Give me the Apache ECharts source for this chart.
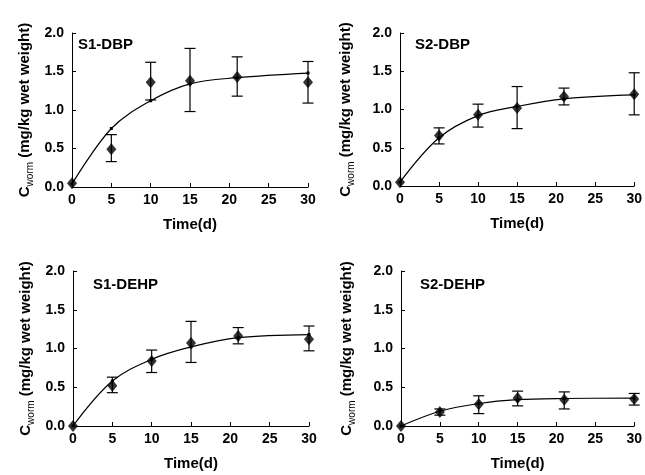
<!DOCTYPE html>
<html>
<head>
<meta charset="utf-8">
<script src="https://cdn.jsdelivr.net/npm/echarts@6/dist/echarts.min.js"></script>
<style>
html,body{margin:0;padding:0;background:#fff;}
#chart{width:645px;height:475px;}
</style>
</head>
<body>
<div id="chart"></div>
<script>
// ---- data ----
const times = [0, 5, 10, 15, 21, 30];
const xTicks = [0, 5, 10, 15, 20, 25, 30];
const yTicks = [0.0, 0.5, 1.0, 1.5, 2.0];

const panelNames = ['S1-DBP', 'S2-DBP', 'S1-DEHP', 'S2-DEHP'];

const s1dbpMean = [0.05, 0.49, 1.36, 1.38, 1.43, 1.36];
const s1dbpLow  = [null, 0.33, 1.13, 0.98, 1.18, 1.09];
const s1dbpHigh = [null, 0.68, 1.62, 1.80, 1.69, 1.63];
const s1dbpFit  = [0.04, 0.76, 1.12, 1.34, 1.42, 1.48];

const s2dbpMean = [0.05, 0.66, 0.93, 1.02, 1.17, 1.20];
const s2dbpLow  = [null, 0.55, 0.77, 0.75, 1.06, 0.93];
const s2dbpHigh = [null, 0.76, 1.07, 1.30, 1.28, 1.48];
const s2dbpFit  = [0.05, 0.63, 0.92, 1.04, 1.14, 1.19];

const s1dehpMean = [0.00, 0.52, 0.84, 1.07, 1.16, 1.12];
const s1dehpLow  = [null, 0.43, 0.69, 0.82, 1.06, 0.97];
const s1dehpHigh = [null, 0.63, 0.98, 1.35, 1.27, 1.29];
const s1dehpFit  = [0.00, 0.58, 0.86, 1.02, 1.14, 1.18];

const s2dehpMean = [0.00, 0.18, 0.28, 0.36, 0.34, 0.35];
const s2dehpLow  = [null, 0.14, 0.16, 0.26, 0.22, 0.27];
const s2dehpHigh = [null, 0.22, 0.39, 0.45, 0.44, 0.42];
const s2dehpFit  = [0.00, 0.19, 0.29, 0.34, 0.355, 0.36];

const panels = [
  {mean: s1dbpMean, low: s1dbpLow, high: s1dbpHigh, fit: s1dbpFit},
  {mean: s2dbpMean, low: s2dbpLow, high: s2dbpHigh, fit: s2dbpFit},
  {mean: s1dehpMean, low: s1dehpLow, high: s1dehpHigh, fit: s1dehpFit},
  {mean: s2dehpMean, low: s2dehpLow, high: s2dehpHigh, fit: s2dehpFit}
];

// ---- layout ----
const FONT = '"Liberation Sans", Arial, Helvetica, sans-serif';
const grids = [
  {left: 72, top: 33, width: 236, height: 154},
  {left: 400, top: 33, width: 235, height: 153},
  {left: 73, top: 271, width: 236, height: 155},
  {left: 401, top: 271, width: 235, height: 155}
];
const nameGaps = [40, 47, 40, 47];
const labelPos = [[78, 46], [415, 46], [93, 286], [420, 286]];

const chart = echarts.init(document.getElementById('chart'), null, {renderer: 'canvas'});

const axisLine = {show: true, lineStyle: {color: '#000', width: 1}};
const axisTick = {show: true, inside: true, length: 4, lineStyle: {color: '#000', width: 1}};

const xAxes = grids.map((g, i) => ({
  type: 'value', gridIndex: i, min: xTicks[0], max: xTicks[xTicks.length - 1], interval: 5,
  axisLine, axisTick, splitLine: {show: false},
  axisLabel: {color: '#000', fontFamily: FONT, fontWeight: 'bold', fontSize: 14, margin: 6},
  name: 'Time(d)', nameLocation: 'middle', nameGap: 30,
  nameTextStyle: {color: '#000', fontFamily: FONT, fontWeight: 'bold', fontSize: 15}
}));

const yAxes = grids.map((g, i) => ({
  type: 'value', gridIndex: i, min: yTicks[0], max: yTicks[yTicks.length - 1], interval: 0.5,
  axisLine, axisTick, splitLine: {show: false},
  axisLabel: {color: '#000', fontFamily: FONT, fontWeight: 'bold', fontSize: 14, margin: 8,
    formatter: v => v.toFixed(1)},
  name: '{c|C}{s|worm}{n| (mg/kg wet weight)}', nameLocation: 'middle', nameRotate: 90, nameGap: nameGaps[i],
  nameTextStyle: {
    color: '#000', fontFamily: FONT, fontWeight: 'bold', fontSize: 15,
    rich: {
      c: {color: '#000', fontFamily: FONT, fontWeight: 'bold', fontSize: 15},
      s: {color: '#000', fontFamily: FONT, fontWeight: 'normal', fontSize: 10, verticalAlign: 'bottom', padding: [0, 0, -3, 0]},
      n: {color: '#000', fontFamily: FONT, fontWeight: 'bold', fontSize: 15}
    }
  }
}));

const series = [];
panels.forEach((p, i) => {
  series.push({
    type: 'line', xAxisIndex: i, yAxisIndex: i, smooth: 0.35, clip: false,
    data: times.map((t, k) => [t, p.fit[k]]),
    symbol: 'rect', symbolSize: 3, showSymbol: true,
    itemStyle: {color: '#000'},
    lineStyle: {color: '#000', width: 1.2},
    z: 2, silent: true, animation: false
  });
  const eb = [];
  times.forEach((t, k) => { if (p.low[k] != null) eb.push([t, p.low[k], p.high[k]]); });
  series.push({
    type: 'custom', xAxisIndex: i, yAxisIndex: i, clip: false,
    data: eb, encode: {x: 0, y: [1, 2]},
    renderItem: (params, api) => {
      const x = api.value(0);
      const top = api.coord([x, api.value(2)]);
      const bot = api.coord([x, api.value(1)]);
      const w = 5.5;
      const st = {stroke: '#000', lineWidth: 1.2};
      return {type: 'group', children: [
        {type: 'line', shape: {x1: top[0], y1: top[1], x2: bot[0], y2: bot[1]}, style: st},
        {type: 'line', shape: {x1: top[0] - w, y1: top[1], x2: top[0] + w, y2: top[1]}, style: st},
        {type: 'line', shape: {x1: bot[0] - w, y1: bot[1], x2: bot[0] + w, y2: bot[1]}, style: st}
      ]};
    },
    z: 3, silent: true, animation: false
  });
  series.push({
    type: 'scatter', xAxisIndex: i, yAxisIndex: i, clip: false,
    data: times.map((t, k) => [t, p.mean[k]]),
    symbol: 'diamond', symbolSize: [10, 12],
    itemStyle: {color: '#000'},
    z: 4, silent: true, animation: false
  });
});

chart.setOption({
  backgroundColor: '#fff',
  animation: false,
  grid: grids.map(g => Object.assign({containLabel: false}, g)),
  xAxis: xAxes,
  yAxis: yAxes,
  graphic: panelNames.map((n, i) => ({
    type: 'text', left: labelPos[i][0], top: labelPos[i][1] - 9,
    style: {text: n, fill: '#000', font: 'bold 15px ' + FONT}
  })),
  series
});
</script>
</body>
</html>
